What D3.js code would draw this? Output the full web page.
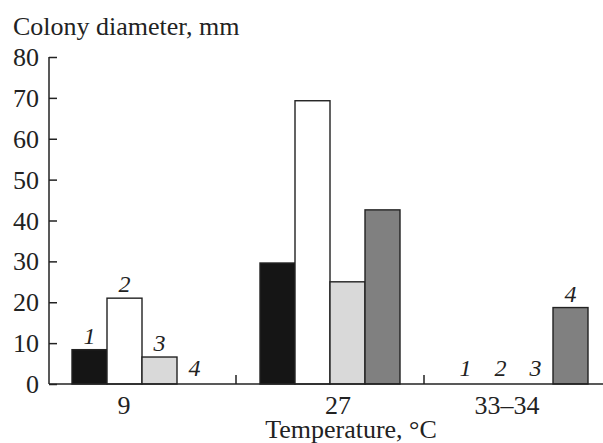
<!DOCTYPE html>
<html>
<head>
<meta charset="utf-8">
<script src="https://cdn.jsdelivr.net/npm/d3@7"></script>
<style>
  body { margin: 0; background: #fff; }
  svg text { font-family: "Liberation Serif", serif !important; }
</style>
</head>
<body>
<script>
// Colony diameter per temperature, four strains (1-4)
const temperatures = ["9", "27", "33–34"];
const strains = ["1", "2", "3", "4"];
const diam9 = [8.4, 21.0, 6.6, 0];
const diam27 = [29.6, 69.3, 25.0, 42.6];
const diam33 = [0, 0, 0, 18.7];
const yTicks = [0, 10, 20, 30, 40, 50, 60, 70, 80];
const labelledGroups = ["9", "33–34"];

const fills = ["#151515", "#ffffff", "#d9d9d9", "#808080"];
// small horizontal nudges of category labels as in the original figure
const tickNudge = [-18, 8, -11];

const width = 603, height = 443;
const plotLeft = 48, plotRight = 612, plotTop = 57, plotBottom = 384;
const serif = "Liberation Serif";

const values = [diam9, diam27, diam33];
const rows = temperatures.flatMap((t, i) =>
    strains.map((s, j) => ({ temp: t, strain: s, value: values[i][j], idx: j })));

const svg = d3.select("body").append("svg")
    .attr("width", width)
    .attr("height", height);

const x = d3.scaleBand()
    .domain(temperatures)
    .range([plotLeft, plotRight]);

const xs = d3.scaleBand()
    .domain(strains)
    .range([24, x.bandwidth() - 24]);

const y = d3.scaleLinear()
    .domain([0, 80])
    .range([plotBottom, plotTop]);

// bars
svg.append("g").selectAll("rect")
    .data(rows.filter(d => d.value > 0))
    .enter()
    .append("rect")
    .attr("x", d => x(d.temp) + xs(d.strain))
    .attr("y", d => y(d.value))
    .attr("width", xs.bandwidth())
    .attr("height", d => y(0) - y(d.value))
    .attr("fill", d => fills[d.idx])
    .attr("stroke", "#222")
    .attr("stroke-width", 1.4);

// strain numbers
svg.append("g").selectAll("text")
    .data(rows.filter(d => labelledGroups.includes(d.temp)))
    .enter()
    .append("text")
    .attr("x", d => x(d.temp) + xs(d.strain) + xs.bandwidth() / 2)
    .attr("y", d => y(d.value) - (d.value > 0 ? 6 : 8))
    .attr("text-anchor", "middle")
    .attr("font-family", serif)
    .attr("font-style", "italic")
    .attr("font-size", 24)
    .attr("fill", "#222")
    .text(d => d.strain);

// y axis (ticks pointing inward)
const yAxis = svg.append("g")
    .attr("transform", `translate(${plotLeft + 1},0)`)
    .call(d3.axisRight(y).tickValues(yTicks).tickSize(8).tickFormat(""));
yAxis.select(".domain").attr("d", `M0,${plotTop}V${plotBottom}`);
yAxis.selectAll("line, path").attr("stroke", "#222").attr("stroke-width", 1.5);

svg.append("g").selectAll("text")
    .data(yTicks)
    .enter()
    .append("text")
    .attr("x", plotLeft - 9)
    .attr("y", d => y(d))
    .attr("dy", "0.35em")
    .attr("text-anchor", "end")
    .attr("font-family", serif)
    .attr("font-size", 26)
    .attr("fill", "#222")
    .text(d => d);

// x axis with separators between groups
svg.append("line")
    .attr("x1", plotLeft + 1).attr("x2", width)
    .attr("y1", y(0)).attr("y2", y(0))
    .attr("stroke", "#222").attr("stroke-width", 1.5);

svg.append("g").selectAll("line")
    .data(temperatures.slice(1))
    .enter()
    .append("line")
    .attr("x1", d => x(d)).attr("x2", d => x(d))
    .attr("y1", y(0)).attr("y2", y(0) - 9)
    .attr("stroke", "#222").attr("stroke-width", 1.5);

svg.append("g").selectAll("text")
    .data(temperatures)
    .enter()
    .append("text")
    .attr("x", (d, i) => x(d) + x.bandwidth() / 2 + tickNudge[i])
    .attr("y", 414)
    .attr("text-anchor", "middle")
    .attr("font-family", serif)
    .attr("font-size", 26)
    .attr("fill", "#222")
    .text(d => d);

svg.append("text")
    .attr("x", 351)
    .attr("y", 438)
    .attr("text-anchor", "middle")
    .attr("font-family", serif)
    .attr("font-size", 26)
    .attr("fill", "#222")
    .text("Temperature, °C");

svg.append("text")
    .attr("x", 13)
    .attr("y", 35)
    .attr("font-family", serif)
    .attr("font-size", 26)
    .attr("fill", "#222")
    .text("Colony diameter, mm");
</script>
</body>
</html>
